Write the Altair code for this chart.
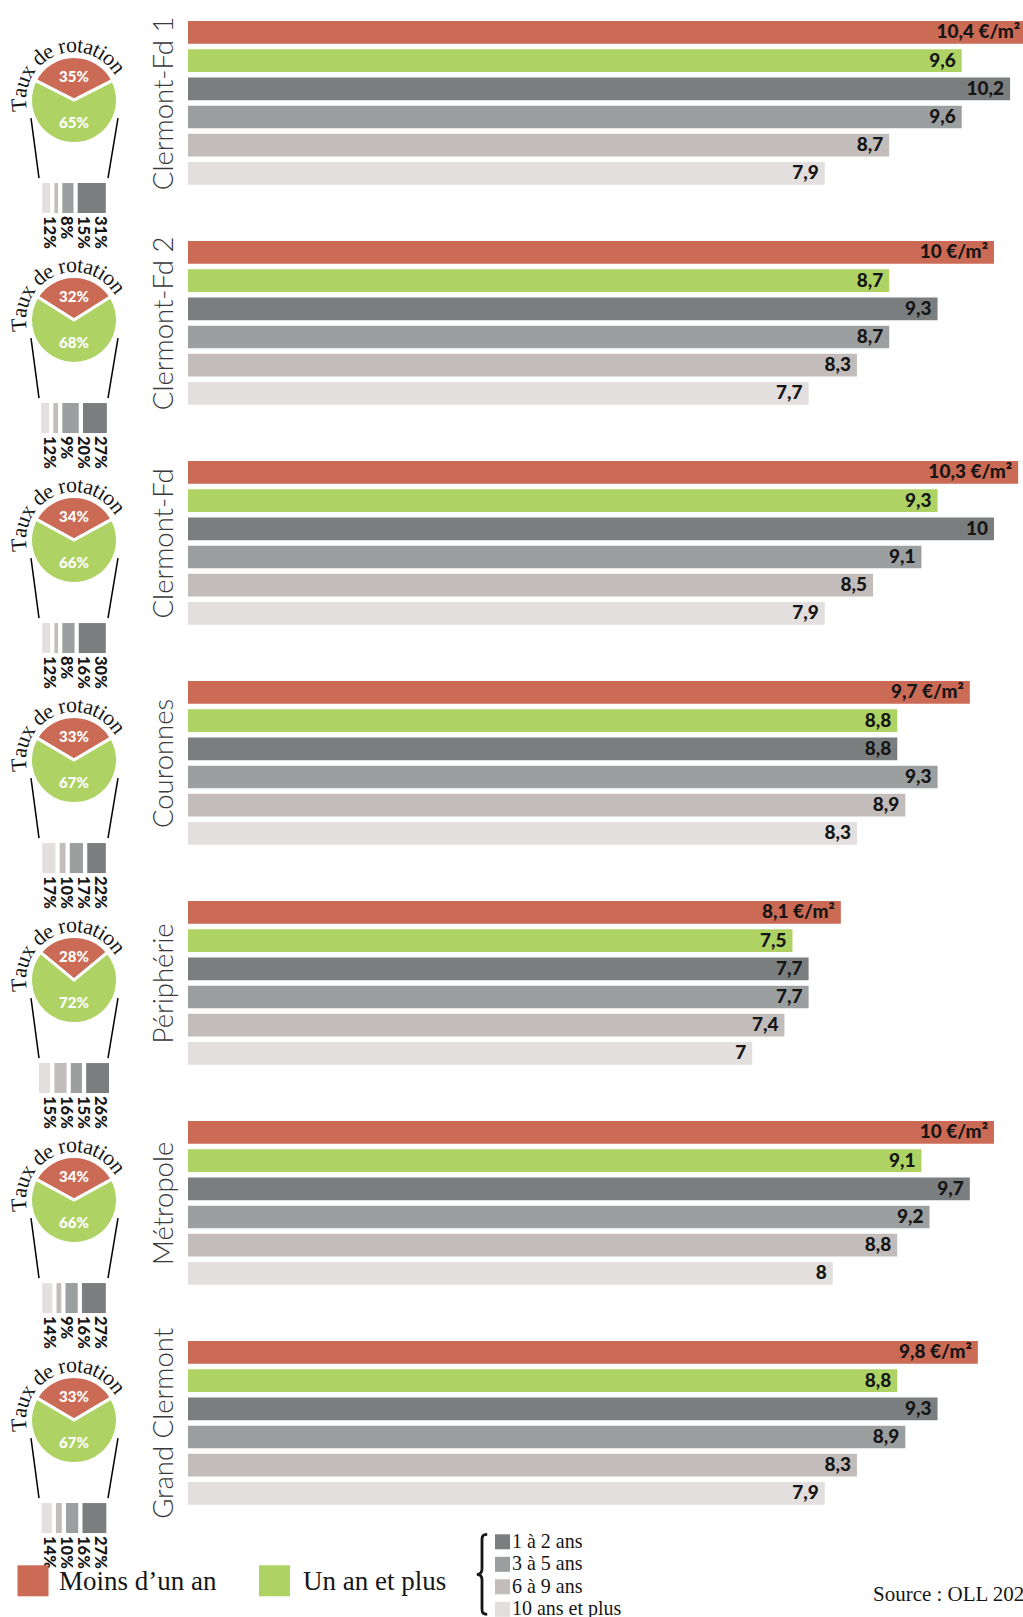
import math

import altair as alt
import pandas as pd

# ---------------------------------------------------------------- data
zones = ["Clermont-Fd 1", "Clermont-Fd 2", "Clermont-Fd", "Couronnes",
         "Périphérie", "Métropole", "Grand Clermont"]

categories = ["Moins d’un an", "Un an et plus", "1 à 2 ans", "3 à 5 ans",
              "6 à 9 ans", "10 ans et plus"]
colors = ["#CB6A55", "#AED364", "#7B7E7E", "#9C9F9F", "#C2BDBA", "#E2DFDE"]

# median rent (€/m²) per zone, in the order of `categories`
rent_cfd1 = [10.4, 9.6, 10.2, 9.6, 8.7, 7.9]
rent_cfd2 = [10.0, 8.7, 9.3, 8.7, 8.3, 7.7]
rent_cfd = [10.3, 9.3, 10.0, 9.1, 8.5, 7.9]
rent_couronnes = [9.7, 8.8, 8.8, 9.3, 8.9, 8.3]
rent_peripherie = [8.1, 7.5, 7.7, 7.7, 7.4, 7.0]
rent_metropole = [10.0, 9.1, 9.7, 9.2, 8.8, 8.0]
rent_grand = [9.8, 8.8, 9.3, 8.9, 8.3, 7.9]
rents = [rent_cfd1, rent_cfd2, rent_cfd, rent_couronnes, rent_peripherie,
         rent_metropole, rent_grand]

# turnover: share of tenants in place for less than a year / one year or more
rotation_short = [35, 32, 34, 33, 28, 34, 33]
rotation_long = [65, 68, 66, 67, 72, 66, 67]

# breakdown of "un an et plus" by seniority
seniority_order = ["10 ans et plus", "6 à 9 ans", "3 à 5 ans", "1 à 2 ans"]
seniority = [
    [12, 8, 15, 31],
    [12, 9, 20, 27],
    [12, 8, 16, 30],
    [17, 10, 17, 22],
    [15, 16, 15, 26],
    [14, 9, 16, 27],
    [14, 10, 16, 27],
]

source_text = "Source : OLL 2022"
arc_title = "Taux de rotation"

# ---------------------------------------------------------------- layout
ROW_H = 219.7          # vertical pitch of one zone
LAST_ROW_H = 190       # last zone leaves room for the legend
LEFT_W = 150           # pie column
GAP = 38               # between pie column and bars
BAR_W = 835
BAR_H = 169.2
X_MAX = 10.36          # € visible on the bar axis (longest bar runs off the edge)
CX, CY = 74, 81.75     # pie centre inside the left column
PIE_R = 43.5
UNIT = 1.06            # px per percentage point for the small seniority bars

SANS = "Lato"
SERIF = "Liberation Serif"
INK = "#161616"

color_enc = alt.Color("cat:N", scale=alt.Scale(domain=categories, range=colors),
                      legend=None)

# advance widths (em) of the serif face, used to lay the title along the arc
SERIF_W = {"T": .611, "a": .444, "u": .5, "x": .5, " ": .25, "d": .5,
           "e": .444, "r": .333, "o": .5, "t": .278, "i": .278, "n": .5}
ARC_FS = 22
ARC_TRACK = 0.93
ARC_R = 48
ARC_START = math.radians(-95)


def arc_chars():
    widths = [SERIF_W[c] * ARC_FS * ARC_TRACK for c in arc_title]
    rows, pos = [], 0.0
    first = widths[0] / 2
    for c, w in zip(arc_title, widths):
        th = ARC_START + (pos + w / 2 - first) / ARC_R
        rows.append({"ch": c, "th": th, "ang": math.degrees(th) % 360})
        pos += w
    return pd.DataFrame(rows)


def fmt(v):
    return f"{v:g}".replace(".", ",")


def seniority_frame(shares):
    widths = [p - 4.5 for p in shares]
    total = sum(widths) + 4 * 3
    x = -total / 2
    rows = []
    for k, (cat, p, w) in enumerate(zip(seniority_order, shares, widths)):
        rows.append({"cat": cat, "x0": x, "x1": x + w,
                     "lx": (k - 1.5) * 17 / UNIT, "label": f"{p}%"})
        x += w + 4
    return pd.DataFrame(rows)


def pie_panel(i, height):
    short, long_ = rotation_short[i], rotation_long[i]
    start = -math.pi * short / 100
    pie_df = pd.DataFrame({"cat": categories[:2], "val": [short, long_],
                           "ord": [0, 1]})
    pie = alt.Chart(pie_df).mark_arc(
        outerRadius=PIE_R, stroke="white", strokeWidth=3
    ).encode(
        theta=alt.Theta("val:Q", stack=True,
                        scale=alt.Scale(domain=[0, 100],
                                        range=[start, start + 2 * math.pi])),
        order=alt.Order("ord:Q"),
        color=color_enc,
        x=alt.value(CX), y=alt.value(CY),
    )
    pct_style = dict(font=SANS, fontWeight=900, fontSize=15, color="white",
                     align="center", baseline="middle")
    pct_short = alt.Chart(pd.DataFrame({"t": [f"{short}%"]})).mark_text(
        **pct_style).encode(x=alt.value(CX), y=alt.value(CY - 23), text="t:N")
    pct_long = alt.Chart(pd.DataFrame({"t": [f"{long_}%"]})).mark_text(
        **pct_style).encode(x=alt.value(CX), y=alt.value(CY + 23), text="t:N")

    arc_text = alt.Chart(arc_chars()).mark_text(
        font=SERIF, fontSize=ARC_FS, align="center", baseline="alphabetic",
        color=INK,
    ).encode(
        x=alt.value(CX), y=alt.value(CY),
        theta=alt.Theta("th:Q", scale=None, stack=False),
        radius=alt.value(ARC_R),
        angle=alt.Angle("ang:Q", scale=None),
        text="ch:N",
    )

    one = pd.DataFrame({"k": [0]})
    left_line = alt.Chart(one).mark_rule(color="black", strokeWidth=1.5).encode(
        x=alt.value(CX - 43), y=alt.value(CY + 18),
        x2=alt.value(CX - 35), y2=alt.value(CY + 78))
    right_line = alt.Chart(one).mark_rule(color="black", strokeWidth=1.5).encode(
        x=alt.value(CX + 44), y=alt.value(CY + 18),
        x2=alt.value(CX + 34), y2=alt.value(CY + 78))

    xs = alt.Scale(domain=[-CX / UNIT, (LEFT_W - CX) / UNIT], nice=False,
                   zero=False)
    sen = seniority_frame(seniority[i])
    sen_bars = alt.Chart(sen).mark_rect().encode(
        x=alt.X("x0:Q", scale=xs, axis=None), x2="x1:Q",
        y=alt.value(CY + 83), y2=alt.value(CY + 113),
        color=color_enc,
    )
    sen_labels = alt.Chart(sen).mark_text(
        angle=90, align="left", baseline="middle", font=SANS,
        fontWeight=900, fontSize=16.5, color=INK,
    ).encode(
        x=alt.X("lx:Q", scale=xs, axis=None), y=alt.value(CY + 116),
        text="label:N",
    )
    return alt.layer(
        left_line, right_line, pie, pct_short, pct_long, arc_text,
        sen_bars, sen_labels,
    ).resolve_scale(theta="independent").properties(width=LEFT_W, height=height)


def bar_panel(i):
    vals = rents[i]
    labels = [fmt(v) + (" €/m²" if k == 0 else "") for k, v in enumerate(vals)]
    df = pd.DataFrame({"cat": categories, "val": vals, "label": labels})
    x = alt.X("val:Q", scale=alt.Scale(domain=[0, X_MAX], nice=False),
              axis=None)
    y = alt.Y("cat:N", sort=categories,
              scale=alt.Scale(paddingInner=0.195, paddingOuter=0.0975),
              axis=alt.Axis(title=zones[i], labels=False, ticks=False,
                            domain=False, grid=False, titleFont=SANS,
                            titleFontSize=27.5, titleFontWeight=300,
                            titleColor="#3a3a3a", titlePadding=10))
    bars = alt.Chart(df).mark_bar(clip=True).encode(x=x, y=y, color=color_enc)
    text = alt.Chart(df).mark_text(
        align="right", baseline="middle", dx=-6, font=SANS, fontWeight=900,
        fontSize=19, color=INK,
    ).encode(x=x, y=y, text="label:N")
    return alt.layer(bars, text).properties(width=BAR_W, height=BAR_H)


cells = []
for i in range(len(zones)):
    h = LAST_ROW_H if i == len(zones) - 1 else ROW_H
    cells += [pie_panel(i, h), bar_panel(i)]

# ---------------------------------------------------------------- legend
LEG_H = 86
BRACE = ("M 0.13 -1 C 0.02 -1 0 -0.96 0 -0.86 L 0 -0.14 C 0 -0.05 -0.04 0 "
         "-0.13 0 C -0.04 0 0 0.05 0 0.14 L 0 0.86 C 0 0.96 0.02 1 0.13 1")
OX = LEFT_W + GAP      # left edge of the right-hand legend cell

main_df = pd.DataFrame({"cat": categories[:2]})
sen_df = pd.DataFrame({"cat": categories[2:]})
big_style = dict(font=SERIF, fontSize=27, align="left", baseline="middle",
                 color=INK)

red_sq = alt.Chart(main_df.iloc[[0]]).mark_square(size=961, opacity=1).encode(
    x=alt.value(33), y=alt.value(52.5), color=color_enc)
red_txt = alt.Chart(main_df.iloc[[0]]).mark_text(**big_style).encode(
    x=alt.value(59), y=alt.value(53.5), text="cat:N")
legend_left = alt.layer(red_sq, red_txt).properties(width=LEFT_W, height=LEG_H)

green_sq = alt.Chart(main_df.iloc[[1]]).mark_square(size=961, opacity=1).encode(
    x=alt.value(274.5 - OX), y=alt.value(52.5), color=color_enc)
green_txt = alt.Chart(main_df.iloc[[1]]).mark_text(**big_style).encode(
    x=alt.value(303 - OX), y=alt.value(53.5), text="cat:N")
brace = alt.Chart(pd.DataFrame({"k": [0]})).mark_point(
    shape=BRACE, size=6400, filled=False, strokeWidth=2.8, color=INK,
    opacity=1,
).encode(x=alt.value(482 - OX), y=alt.value(46))
sen_y = alt.Y("cat:N", sort=categories[2:],
              scale=alt.Scale(type="point", domain=categories[2:],
                              range=[13.5, 81], padding=0), axis=None)
sen_sq = alt.Chart(sen_df).mark_square(size=225, opacity=1).encode(
    x=alt.value(502.5 - OX), y=sen_y, color=color_enc)
sen_txt = alt.Chart(sen_df).mark_text(
    font=SERIF, fontSize=20, align="left", baseline="middle", color=INK
).encode(x=alt.value(512 - OX), y=sen_y, text="cat:N")
source = alt.Chart(pd.DataFrame({"t": [source_text]})).mark_text(
    font=SERIF, fontSize=21, align="left", baseline="middle", color=INK,
    clip=True,
).encode(x=alt.value(873 - OX), y=alt.value(67), text="t:N")
legend_right = alt.layer(
    green_sq, green_txt, brace, sen_sq, sen_txt, source
).properties(width=BAR_W, height=LEG_H)

cells += [legend_left, legend_right]

chart = alt.concat(
    *cells, columns=2, bounds="flush",
    spacing=alt.RowColnumber(row=0, column=GAP),
).properties(
    padding={"left": 0, "right": 0, "top": 15.3, "bottom": 0}
).configure_view(strokeWidth=0)

chart.save("out.html", embed_options={"renderer": "svg", "actions": False})
